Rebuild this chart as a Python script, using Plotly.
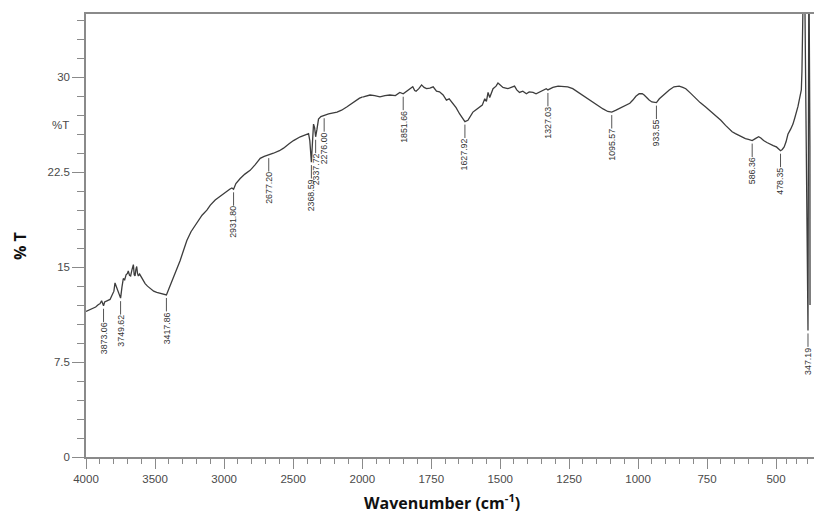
import plotly.graph_objects as go

# ---------------- data ----------------
wavenumber = [
    4000, 3960, 3930, 3910, 3899, 3887, 3880, 3873.06, 3865, 3855, 3840, 3826, 3815, 3807, 3798, 3790,
    3782, 3773, 3760, 3749.62, 3740, 3730, 3720, 3710, 3700, 3694, 3685, 3677, 3667, 3657, 3651, 3645,
    3639, 3633, 3627, 3621, 3612, 3605, 3597, 3585, 3572, 3555, 3536, 3510, 3488, 3460, 3440, 3417.86,
    3400, 3385, 3367, 3340, 3319, 3295, 3270, 3240, 3198, 3160, 3125, 3100, 3065, 3030, 2993, 2960,
    2944, 2931.80, 2915, 2900, 2884, 2850, 2812, 2775, 2739, 2710, 2677.20, 2643, 2600, 2570, 2530, 2498,
    2449, 2410, 2389, 2380, 2372, 2368.59, 2362, 2353, 2345, 2337.72, 2328, 2317, 2300, 2276.00, 2244, 2183,
    2150, 2113, 2075, 2040, 2020, 1996, 1972, 1955, 1936, 1918, 1900, 1880, 1864, 1851.66, 1840, 1829,
    1817, 1810, 1805, 1795, 1785, 1776, 1767, 1755, 1743, 1731, 1720, 1707, 1695, 1685, 1671, 1660,
    1647, 1638, 1627.92, 1617, 1608, 1599, 1590, 1574, 1565, 1556, 1550, 1544, 1538, 1526, 1515, 1508,
    1500, 1490, 1480, 1472, 1460, 1448, 1440, 1430, 1418, 1405, 1395, 1381, 1370, 1357, 1345, 1333,
    1327.03, 1309, 1290, 1273, 1255, 1237, 1220, 1201, 1182, 1164, 1145, 1127, 1110, 1095.57, 1080, 1060,
    1044, 1030, 1019, 1008, 996, 985, 978, 968, 960, 950, 933.55, 923, 905, 887, 870, 851,
    838, 827, 810, 791, 775, 755, 737, 719, 700, 683, 670, 659, 647, 635, 620, 611,
    600, 586.36, 575, 563, 555, 545, 533, 522, 510, 498, 488, 478.35, 470, 461, 452, 443,
    430, 419, 410, 401, 395, 389, 383, 379, 376, 374, 371, 367, 362, 347.19, 343, 338, 337.5,
]
transmittance = [
    11.5, 11.7, 11.85, 12.05, 12.1, 12.35, 12.1, 11.95, 12.25, 12.3, 12.4, 12.45, 12.7, 12.9, 13.1, 13.75,
    13.5, 13.3, 12.9, 12.55, 13.4, 14.1, 14.0, 14.4, 14.5, 14.7, 14.35, 14.3, 14.8, 15.2, 14.4, 14.3,
    14.8, 15.05, 14.5, 14.3, 14.45, 14.3, 14.2, 13.9, 13.7, 13.5, 13.3, 13.1, 13.0, 12.92, 12.88, 12.8,
    13.3, 13.7, 14.2, 14.9, 15.5, 16.3, 17.1, 17.8, 18.5, 19.1, 19.5, 19.9, 20.3, 20.6, 20.9, 21.15,
    21.25, 21.15, 21.6, 21.8, 22.0, 22.35, 22.65, 23.1, 23.6, 23.75, 23.85, 24.0, 24.2, 24.4, 24.75, 25.0,
    25.3, 25.5, 25.55, 25.0, 23.6, 23.3, 24.6, 26.3, 26.0, 25.3, 25.9, 26.7, 26.9, 27.0, 27.1, 27.25,
    27.4, 27.65, 27.95, 28.2, 28.35, 28.45, 28.6, 28.55, 28.45, 28.55, 28.6, 28.55, 28.8, 28.7, 28.9, 29.1,
    29.25, 28.95, 28.9, 29.1, 29.4, 29.2, 29.1, 29.15, 29.25, 28.9, 28.85, 28.6, 28.2, 28.3, 27.9, 27.6,
    27.1, 26.8, 26.5, 26.6, 26.95, 27.25, 27.4, 27.65, 27.8, 28.3, 28.1, 28.8, 28.4, 29.1, 29.3, 29.55,
    29.4, 29.2, 29.15, 29.1, 29.2, 29.3, 29.0, 28.8, 28.9, 28.7, 28.85, 28.8, 28.7, 28.85, 28.95, 29.1,
    29.0, 29.2, 29.3, 29.3, 29.25, 29.1, 28.85, 28.6, 28.3, 28.0, 27.75, 27.5, 27.3, 27.25, 27.4, 27.6,
    27.8, 27.95, 28.2, 28.5, 28.7, 28.7, 28.6, 28.35, 28.2, 28.05, 28.0, 28.3, 28.65, 29.0, 29.25, 29.3,
    29.2, 29.1, 28.75, 28.3, 28.0, 27.65, 27.3, 27.0, 26.6, 26.2, 25.95, 25.7, 25.55, 25.4, 25.2, 25.15,
    25.1, 25.0, 25.15, 25.3, 25.2, 25.0, 24.85, 24.7, 24.6, 24.5, 24.3, 24.2, 24.3, 24.5, 24.9, 25.5,
    25.9, 26.3, 26.8, 27.25, 27.7, 28.2, 28.6, 29.0, 30.5, 32.1, 35.5, 40.0, 36.0, 10.0, 40.0, 24.6, 12.0,
]

peak_wavenumbers = [3873.06, 3749.62, 3417.86, 2931.80, 2677.20, 2368.59, 2337.72, 2276.00,
                    1851.66, 1627.92, 1327.03, 1095.57, 933.55, 586.36, 478.35, 347.19]

x_ticks_high = [4000, 3500, 3000, 2500]
x_ticks_low = [2000, 1750, 1500, 1250, 1000, 750, 500]
y_ticks = [0, 7.5, 15, 22.5, 30]
y_tick_labels = ["0", "7.5", "15", "22.5", "30"]

# ---------------- figure ----------------
OFF = 8                      # page body margin offsets the figure in the window
WIN_W, WIN_H = 822, 512
# plot-area edges in window pixels (visible area ends near x=814)
PL, PR, PT, PB = 86, 814, 14, 457
W, H = PR - OFF, WIN_H - OFF
ML, MR, MT = PL - OFF, 0, PT - OFF
MB = H - (PB - OFF)
plot_w = W - ML - MR
plot_h = H - MT - MB
split1 = 276.3 / plot_w              # 4000-2000 segment (compressed scale)
split2 = (776 - PL) / plot_w         # 2000-500 segment, then short tail to the end
x_end = 318.5

AX = "#8a8a8a"
TXT = "#4a4a4a"
FONT = "Liberation Sans, Arial, sans-serif"

line_style = dict(color="#3d3d3d", width=1.3)

fig = go.Figure()
for xa in ["x", "x2", "x3"]:
    fig.add_trace(go.Scatter(x=wavenumber, y=transmittance, mode="lines", line=line_style,
                             xaxis=xa, yaxis="y", showlegend=False, hoverinfo="skip"))

common_x = dict(showline=True, linecolor=AX, linewidth=1.5, mirror=True, ticks="outside",
                ticklen=10, tickwidth=1.2, tickcolor=AX, showgrid=False, zeroline=False,
                tickfont=dict(family=FONT, size=11.5, color=TXT), autorange=False,
                fixedrange=True, anchor="y")

def minor(d):
    return dict(dtick=d, tick0=0, ticklen=5, tickcolor=AX, ticks="outside", tickwidth=1.2)

fig.update_layout(
    width=W, height=H,
    margin=dict(l=ML, r=MR, t=MT, b=MB, autoexpand=False),
    paper_bgcolor="white", plot_bgcolor="white",
    xaxis=dict(domain=[0, split1], range=[4000, 2000],
               tickmode="array", tickvals=x_ticks_high,
               ticktext=[str(v) for v in x_ticks_high], minor=minor(100), **common_x),
    xaxis2=dict(domain=[split1, split2], range=[2000, 500],
                tickmode="array", tickvals=x_ticks_low,
                ticktext=[str(v) for v in x_ticks_low], minor=minor(50), **common_x),
    xaxis3=dict(domain=[split2, 1], range=[500, x_end],
                tickmode="array", tickvals=[], ticktext=[], minor=minor(50), **common_x),
    yaxis=dict(range=[0, 35], autorange=False, anchor="x", showline=True, linecolor=AX, linewidth=1.5,
               ticks="outside", ticklen=12, tickwidth=1.2, tickcolor=AX,
               tickmode="array", tickvals=y_ticks, ticktext=y_tick_labels,
               minor=dict(dtick=1.5, tick0=0, ticklen=7, tickcolor=AX, ticks="outside", tickwidth=1.2),
               showgrid=False, zeroline=False, fixedrange=True,
               tickfont=dict(family=FONT, size=11.5, color=TXT)),
)

# peak labels
lookup = dict(zip(wavenumber, transmittance))
pk_size = 8.8
for w in peak_wavenumbers:
    label = f"{w:.2f}"
    ndig = sum(c.isdigit() for c in label)
    text_len = pk_size * (0.556 * ndig + 0.278)
    ay = 3 + 13 + text_len / 2 + 1
    xref = "x" if w > 2000 else ("x2" if w > 500 else "x3")
    fig.add_annotation(
        x=w, y=lookup[w], xref=xref, yref="y",
        text=label, textangle=-90, showarrow=True, arrowhead=0, arrowwidth=1,
        arrowcolor="#555555", ax=0, ay=ay, standoff=3, borderpad=0,
        font=dict(family=FONT, size=pk_size, color="#333333"),
    )


def px_to_paper_x(px):
    return (px - PL) / plot_w


def px_to_paper_y(py):
    return (PB - py) / plot_h


# inner "%T" label
fig.add_annotation(x=px_to_paper_x(71), y=26.2, xref="paper", yref="y",
                   text="%T", showarrow=False, xanchor="right", yanchor="middle",
                   font=dict(family=FONT, size=11.5, color=TXT))

# axis titles
fig.add_annotation(x=px_to_paper_x(20), y=px_to_paper_y(246), xref="paper", yref="paper",
                   text="<b>% T</b>", textangle=-90, showarrow=False,
                   xanchor="center", yanchor="middle",
                   font=dict(family="Open Sans, Arial, sans-serif", size=16, color="#111111"))
fig.add_annotation(x=px_to_paper_x(442), y=px_to_paper_y(502), xref="paper", yref="paper",
                   text="<b>Wavenumber (cm<sup>-1</sup>)</b>", showarrow=False,
                   xanchor="center", yanchor="middle",
                   font=dict(family="Open Sans, Arial, sans-serif", size=16, color="#111111"))

fig.write_html("out.html")
